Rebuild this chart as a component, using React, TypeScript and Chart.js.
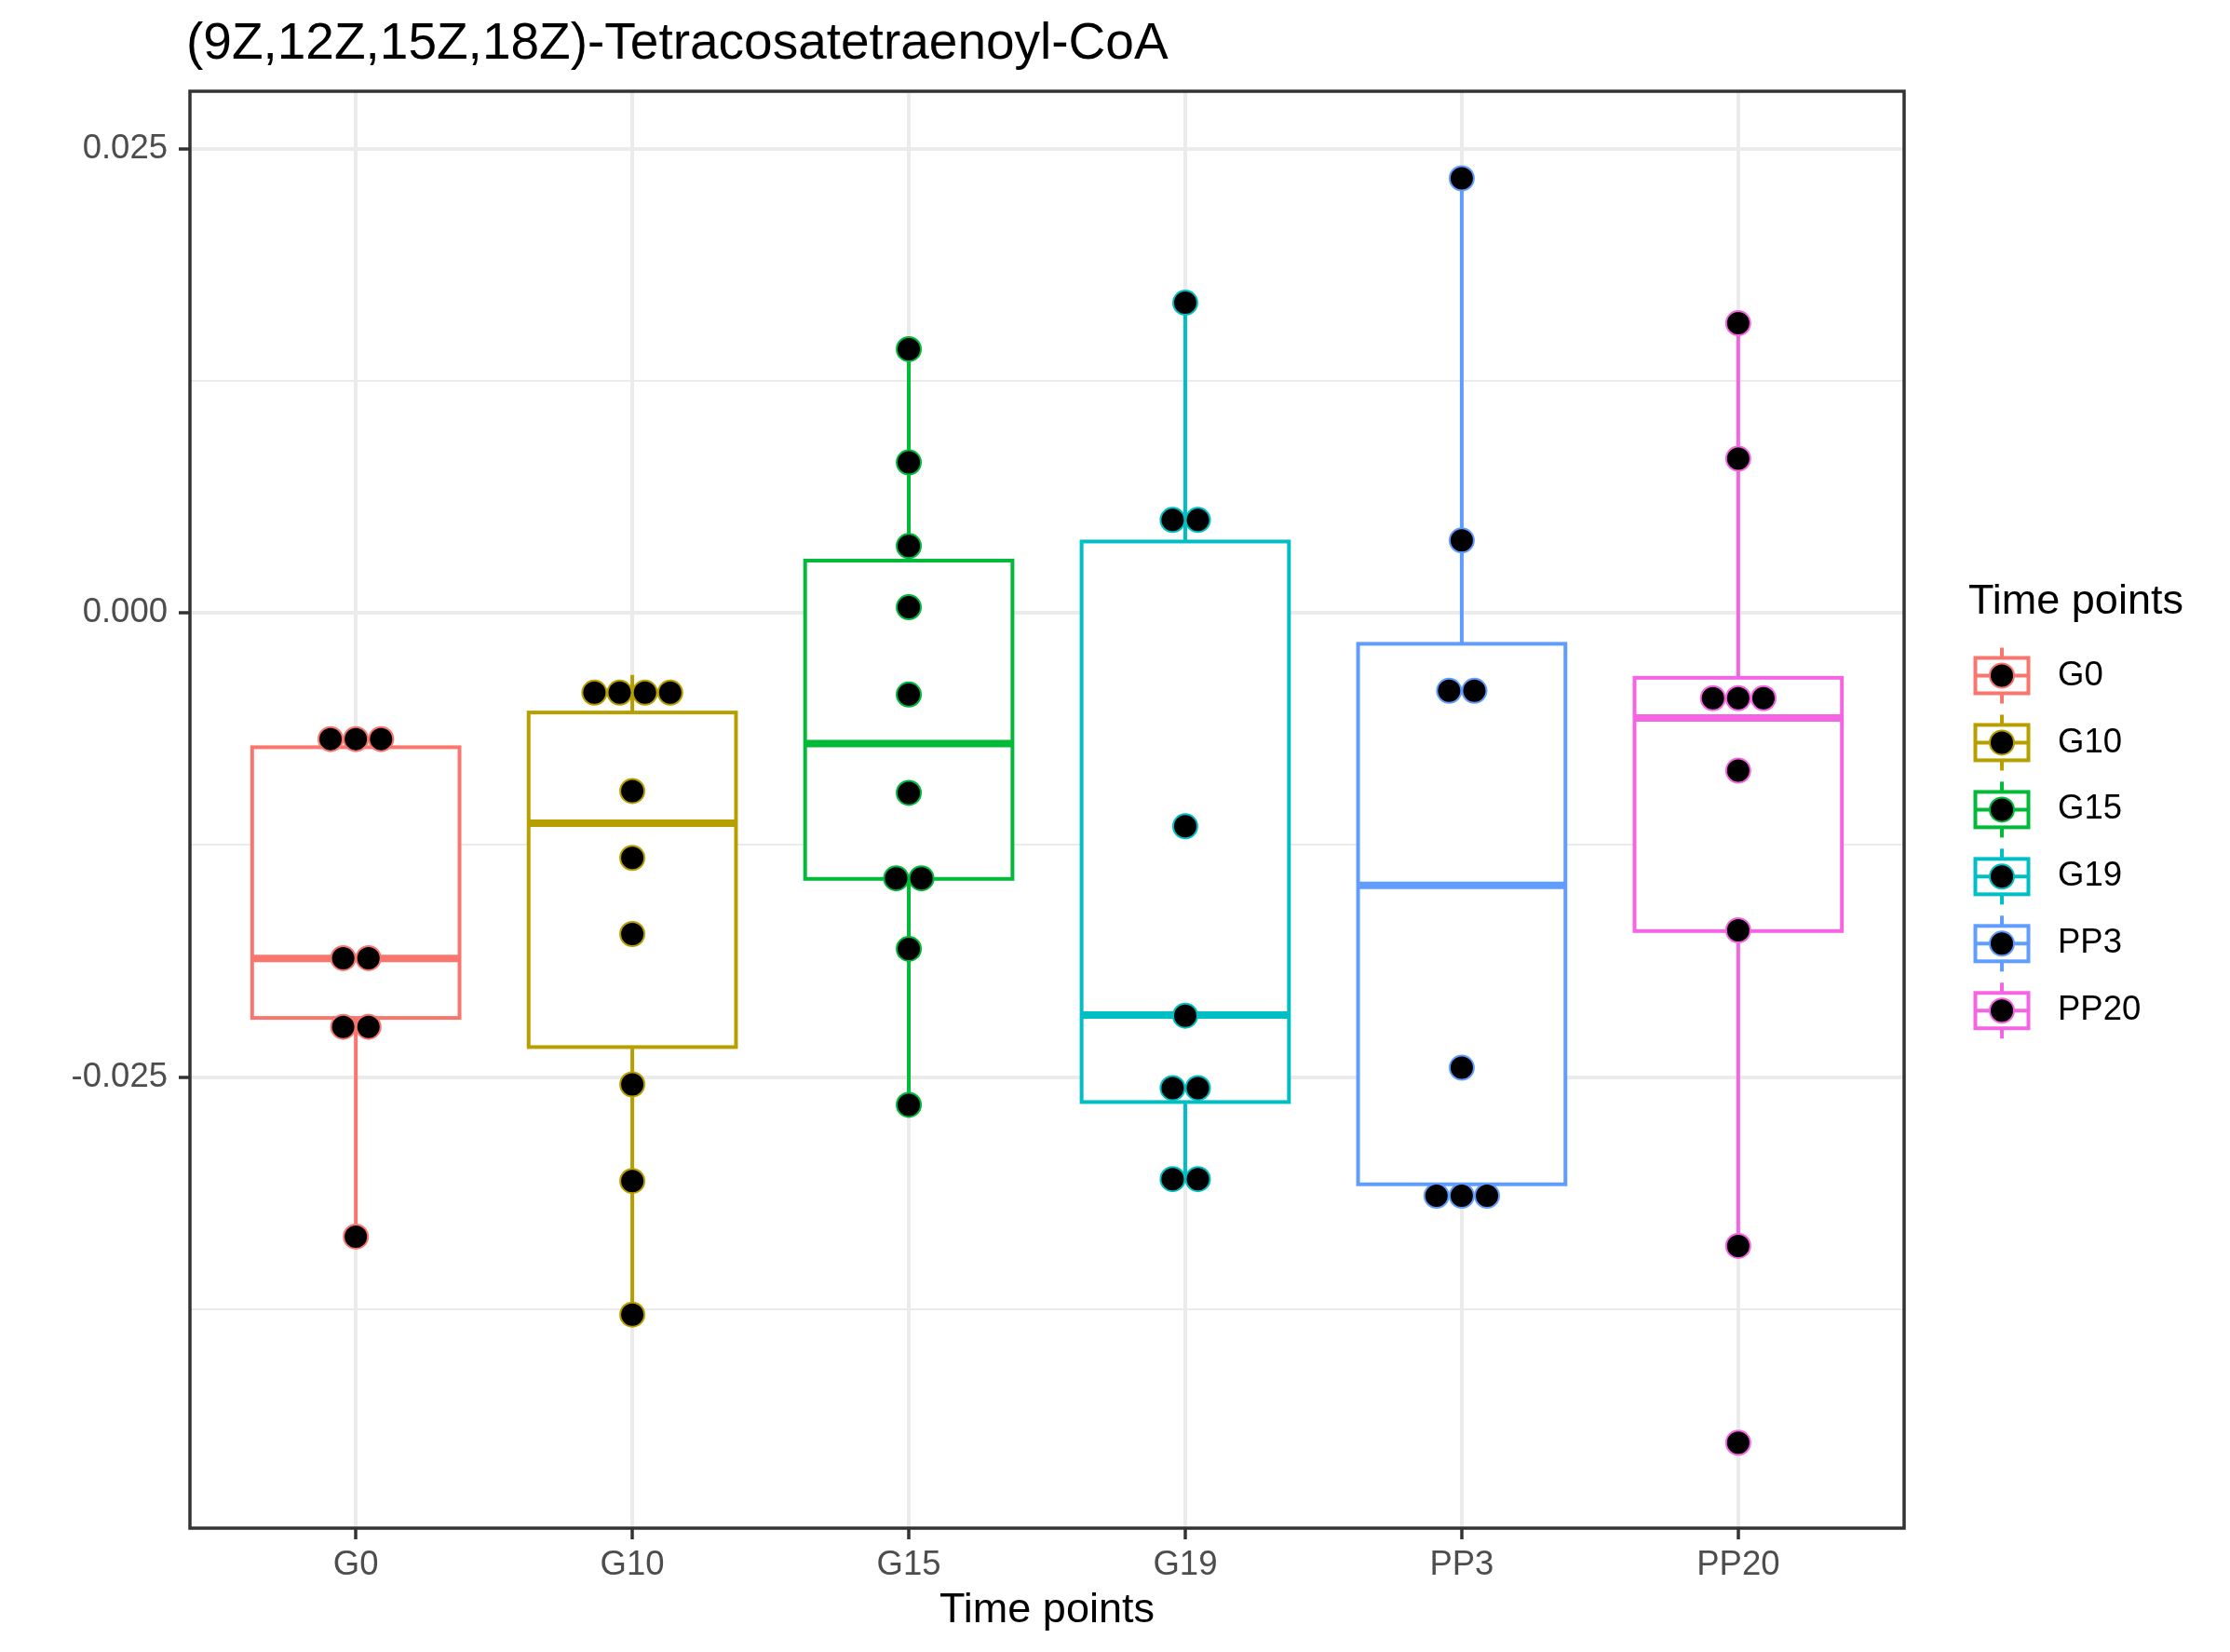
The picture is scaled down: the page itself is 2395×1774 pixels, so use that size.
import React, { useEffect, useRef } from "react";
import { Chart, registerables } from "chart.js";

Chart.register(...registerables);

// ---------------- data ----------------
const chartTitle = "(9Z,12Z,15Z,18Z)-Tetracosatetraenoyl-CoA";
const axisTitle = "Time points";
const legendTitle = "Time points";
const categories = ["G0", "G10", "G15", "G19", "PP3", "PP20"];
const colors = ["#F8766D", "#B79F00", "#00BA38", "#00BFC4", "#619CFF", "#F564E3"];

// dot values (binned, as drawn by the dotplot)
const pointsG0 = [-0.0068, -0.0068, -0.0068, -0.0186, -0.0186, -0.0223, -0.0223, -0.0336];
const pointsG10 = [-0.0043, -0.0043, -0.0043, -0.0043, -0.0096, -0.0132, -0.0173, -0.0254, -0.0306, -0.0378];
const pointsG15 = [0.0142, 0.0081, 0.0036, 0.0003, -0.0044, -0.0097, -0.0143, -0.0143, -0.0181, -0.0265];
const pointsG19 = [0.0167, 0.005, 0.005, -0.0115, -0.0217, -0.0256, -0.0256, -0.0305, -0.0305];
const pointsPP3 = [0.0234, 0.0039, -0.0042, -0.0042, -0.0245, -0.0314, -0.0314, -0.0314];
const pointsPP20 = [0.0156, 0.0083, -0.0046, -0.0046, -0.0046, -0.0085, -0.0171, -0.0341, -0.0447];
const groupPoints = [pointsG0, pointsG10, pointsG15, pointsG19, pointsPP3, pointsPP20];

// boxplot statistics
const whiskerHigh = [-0.0068, -0.00335, 0.01423, 0.0167, 0.02344, 0.01561];
const q3 = [-0.00724, -0.00537, 0.00281, 0.00384, -0.00167, -0.0035];
const median = [-0.01862, -0.01133, -0.00704, -0.02167, -0.01468, -0.00566];
const q1 = [-0.02182, -0.02339, -0.01433, -0.02635, -0.03078, -0.01714];
const whiskerLow = [-0.03364, -0.0378, -0.0265, -0.03054, -0.0318, -0.03413];

// axis ticks
const yTickValues = [-0.0375, -0.025, -0.0125, 0, 0.0125, 0.025];
const yMajorTicks = [-0.025, 0, 0.025];
const yMin = -0.0493;
const yMax = 0.02809;

// ---------------- styling ----------------
const FONT = "'Liberation Sans', Arial, Helvetica, sans-serif";
const W = 2395;
const H = 1774;
const BOX_WIDTH = 0.75;
const DOT_STEP = 0.0914;
const BOX_LW = 4;
const MEDIAN_LW = 8;
const TICK_FONT = 36.5;

const isMajor = (v: number) => yMajorTicks.some((m) => Math.abs(m - v) < 1e-9);

function stackOffsets(values: number[]): number[] {
  const counts = new Map<number, number>();
  values.forEach((v) => counts.set(v, (counts.get(v) || 0) + 1));
  const seen = new Map<number, number>();
  return values.map((v) => {
    const k = counts.get(v) || 1;
    const i = seen.get(v) || 0;
    seen.set(v, i + 1);
    return (i - (k - 1) / 2) * DOT_STEP;
  });
}

const boxPlugin = {
  id: "boxes",
  beforeDatasetsDraw(chart: any) {
    const { ctx, scales } = chart;
    const x = scales.x;
    const y = scales.y;
    ctx.save();
    ctx.lineJoin = "miter";
    ctx.lineCap = "butt";
    categories.forEach((_, i) => {
      const cx = x.getPixelForValue(i + 1);
      const left = x.getPixelForValue(i + 1 - BOX_WIDTH / 2);
      const right = x.getPixelForValue(i + 1 + BOX_WIDTH / 2);
      const yq1 = y.getPixelForValue(q1[i]);
      const yq3 = y.getPixelForValue(q3[i]);
      const ym = y.getPixelForValue(median[i]);
      const yhi = y.getPixelForValue(whiskerHigh[i]);
      const ylo = y.getPixelForValue(whiskerLow[i]);
      ctx.strokeStyle = colors[i];
      ctx.lineWidth = BOX_LW;
      ctx.beginPath();
      ctx.moveTo(cx, yhi);
      ctx.lineTo(cx, yq3);
      ctx.moveTo(cx, yq1);
      ctx.lineTo(cx, ylo);
      ctx.stroke();
      ctx.fillStyle = "#FFFFFF";
      ctx.fillRect(left, yq3, right - left, yq1 - yq3);
      ctx.strokeRect(left, yq3, right - left, yq1 - yq3);
      ctx.lineWidth = MEDIAN_LW;
      ctx.beginPath();
      ctx.moveTo(left, ym);
      ctx.lineTo(right, ym);
      ctx.stroke();
    });
    ctx.restore();
  },
};

const decorPlugin = {
  id: "decor",
  afterDraw(chart: any) {
    const { ctx, chartArea } = chart;
    ctx.save();
    // panel border
    ctx.strokeStyle = "#333333";
    ctx.lineWidth = 3.5;
    ctx.strokeRect(chartArea.left, chartArea.top, chartArea.right - chartArea.left, chartArea.bottom - chartArea.top);

    // title
    ctx.fillStyle = "#000000";
    ctx.font = `55px ${FONT}`;
    ctx.textAlign = "left";
    ctx.textBaseline = "alphabetic";
    ctx.fillText(chartTitle, 200, 63);

    // legend
    ctx.font = `45px ${FONT}`;
    ctx.fillText(legendTitle, 2114, 659);
    const keyX = 2150;
    const keyY0 = 725.5;
    const keyStep = 71.95;
    const kw = 57;
    const kh = 38;
    categories.forEach((label, i) => {
      const yc = keyY0 + i * keyStep;
      ctx.strokeStyle = colors[i];
      ctx.lineWidth = BOX_LW;
      ctx.beginPath();
      ctx.moveTo(keyX, yc - 30);
      ctx.lineTo(keyX, yc + 30);
      ctx.stroke();
      ctx.fillStyle = "#FFFFFF";
      ctx.fillRect(keyX - kw / 2, yc - kh / 2, kw, kh);
      ctx.strokeRect(keyX - kw / 2, yc - kh / 2, kw, kh);
      ctx.beginPath();
      ctx.moveTo(keyX - kw / 2, yc);
      ctx.lineTo(keyX + kw / 2, yc);
      ctx.stroke();
      ctx.beginPath();
      ctx.arc(keyX, yc, 13, 0, Math.PI * 2);
      ctx.fillStyle = "#000000";
      ctx.fill();
      ctx.lineWidth = 2;
      ctx.stroke();
      ctx.fillStyle = "#000000";
      ctx.font = `${TICK_FONT}px ${FONT}`;
      ctx.textBaseline = "middle";
      ctx.fillText(label, 2210, yc);
    });
    ctx.restore();
  },
};

export default function App() {
  const canvasRef = useRef<HTMLCanvasElement | null>(null);

  useEffect(() => {
    document.body.style.margin = "0";
    document.documentElement.style.overflow = "hidden";
    const canvas = canvasRef.current;
    if (!canvas) return;
    Chart.defaults.font.family = FONT;

    const datasets = categories.map((c, i) => {
      const offs = stackOffsets(groupPoints[i]);
      return {
        label: c,
        data: groupPoints[i].map((v, j) => ({ x: i + 1 + offs[j], y: v })),
        backgroundColor: "#000000",
        borderColor: colors[i],
        pointBackgroundColor: "#000000",
        pointBorderColor: colors[i],
        pointRadius: 13,
        pointBorderWidth: 2,
        showLine: false,
      };
    });

    const chart = new Chart(canvas, {
      type: "scatter",
      data: { datasets },
      options: {
        responsive: false,
        animation: false,
        devicePixelRatio: 1,
        events: [],
        layout: { padding: { left: 0, right: 350, top: 98, bottom: 0 } },
        plugins: {
          legend: { display: false },
          title: { display: false },
          tooltip: { enabled: false },
        },
        scales: {
          x: {
            type: "linear",
            min: 0.4,
            max: 6.6,
            afterBuildTicks: (s: any) => {
              s.ticks = categories.map((_, i) => ({ value: i + 1 }));
            },
            afterFit: (s: any) => {
              s.height = 133;
            },
            ticks: {
              callback: (v: any) => categories[Math.round(Number(v)) - 1] ?? "",
              font: { family: FONT, size: TICK_FONT },
              color: "#4D4D4D",
              padding: 6,
              maxRotation: 0,
              autoSkip: false,
            },
            grid: {
              color: "#EBEBEB",
              lineWidth: 4,
              tickColor: "#333333",
              tickWidth: 3.5,
              tickLength: 12,
              drawTicks: true,
            },
            border: { display: false },
            title: {
              display: true,
              text: axisTitle,
              color: "#000000",
              font: { family: FONT, size: 45 },
              padding: { top: 0, bottom: 17 },
            },
          },
          y: {
            type: "linear",
            min: yMin,
            max: yMax,
            afterBuildTicks: (s: any) => {
              s.ticks = yTickValues.map((v) => ({ value: v }));
            },
            afterFit: (s: any) => {
              s.width = 204;
            },
            ticks: {
              callback: (v: any) => (isMajor(Number(v)) ? Number(v).toFixed(3) : ""),
              font: { family: FONT, size: TICK_FONT },
              color: "#4D4D4D",
              padding: 12,
              autoSkip: false,
            },
            grid: {
              color: "#EBEBEB",
              lineWidth: (ctx: any) => (ctx.tick && !isMajor(ctx.tick.value) ? 2 : 4),
              tickColor: (ctx: any) => (ctx.tick && !isMajor(ctx.tick.value) ? "rgba(0,0,0,0)" : "#333333"),
              tickWidth: 3.5,
              tickLength: 12,
              drawTicks: true,
            },
            border: { display: false },
          },
        },
      },
      plugins: [boxPlugin, decorPlugin],
    } as any);

    return () => chart.destroy();
  }, []);

  return (
    <div style={{ width: W, height: H }}>
      <canvas ref={canvasRef} width={W} height={H} style={{ display: "block", width: W, height: H }} />
    </div>
  );
}
